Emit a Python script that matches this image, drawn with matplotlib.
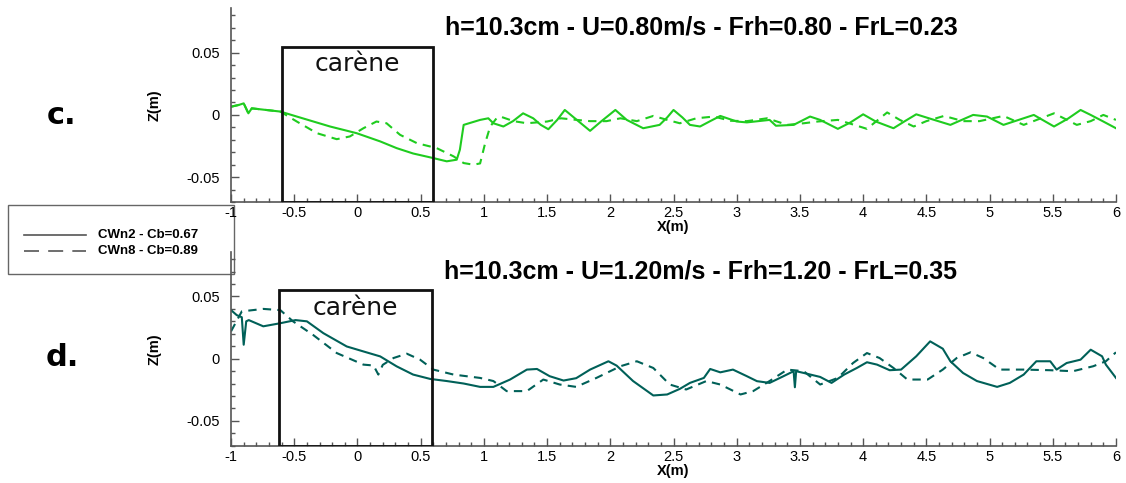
import numpy as np
from matplotlib import pyplot as plt
from matplotlib.patches import Rectangle
from matplotlib.ticker import MultipleLocator
from matplotlib.lines import Line2D

plt.rcParams['font.family'] = ['Liberation Sans', 'DejaVu Sans']

# c. : U=0.80 m/s
c_x2 = [-1.0, -0.94, -0.90, -0.863, -0.836, -0.61, -0.48, -0.217, -0.006, 0.18, 0.31, 0.44, 0.60, 0.706,
        0.785, 0.81, 0.84, 0.97, 1.035, 1.075, 1.154, 1.23, 1.31, 1.39, 1.45, 1.51, 1.58, 1.64, 1.735, 1.84,
        1.93, 2.04, 2.13, 2.26, 2.39, 2.45, 2.50, 2.57, 2.63, 2.71, 2.79, 2.87, 3.0, 3.08, 3.26, 3.31, 3.45,
        3.58, 3.66, 3.80, 3.90, 4.0, 4.10, 4.24, 4.33, 4.42, 4.53, 4.69, 4.78, 4.87, 4.98, 5.11, 5.23, 5.35,
        5.51, 5.62, 5.72, 5.80, 5.90, 6.0]
c_z2 = [0.0066, 0.008, 0.0093, 0.0013, 0.0053, 0.0027, -0.0013, -0.0093, -0.0147, -0.0213, -0.0267, -0.031,
        -0.0347, -0.0373, -0.036, -0.028, -0.008, -0.004, -0.0027, -0.0067, -0.0093, -0.005, 0.0013, -0.0027,
        -0.008, -0.0115, -0.004, 0.004, -0.004, -0.0128, -0.005, 0.004, -0.004, -0.0107, -0.008, -0.002,
        0.004, -0.002, -0.008, -0.0093, -0.005, -0.0008, -0.0053, -0.006, -0.004, -0.0087, -0.008, -0.0013,
        -0.004, -0.0112, -0.006, 0.0005, -0.0053, -0.0107, -0.005, 0.0005, -0.003, -0.008, -0.004, 0.0, -0.0013,
        -0.008, -0.004, 0.0, -0.0093, -0.003, 0.004, 0.0, -0.0053, -0.0107]
c_x8 = [-1.0, -0.94, -0.90, -0.863, -0.836, -0.61, -0.48, -0.32, -0.164, -0.06, 0.047, 0.15, 0.23, 0.337,
        0.47, 0.627, 0.76, 0.84, 0.917, 0.97, 1.01, 1.05, 1.10, 1.13, 1.235, 1.34, 1.50, 1.61, 1.735, 1.84,
        1.97, 2.08, 2.21, 2.34, 2.45, 2.55, 2.68, 2.82, 2.95, 3.08, 3.24, 3.40, 3.53, 3.64, 3.80, 3.93, 4.03,
        4.19, 4.29, 4.40, 4.50, 4.64, 4.79, 4.92, 5.11, 5.27, 5.51, 5.69, 5.80, 5.90, 6.0]
c_z8 = [0.0066, 0.008, 0.0093, 0.0013, 0.0053, 0.0027, -0.0053, -0.0147, -0.0195, -0.0173, -0.0107, -0.0053,
        -0.0067, -0.016, -0.0227, -0.0267, -0.0333, -0.0387, -0.040, -0.039, -0.0227, -0.0093, -0.0027,
        -0.0013, -0.005, -0.0067, -0.0053, -0.0027, -0.004, -0.005, -0.005, -0.0027, -0.005, -0.0008, -0.004,
        -0.0067, -0.0027, -0.0013, -0.0047, -0.005, -0.0027, -0.008, -0.0067, -0.0053, -0.004, -0.008,
        -0.0112, 0.002, -0.004, -0.0093, -0.005, -0.0008, -0.005, -0.005, -0.0008, -0.008, 0.0013, -0.008,
        -0.005, 0.0, -0.004]

# d. : U=1.20 m/s
d_x2 = [-1.0, -0.955, -0.915, -0.90, -0.88, -0.86, -0.745, -0.61, -0.49, -0.40, -0.27, -0.085, 0.047, 0.18,
        0.31, 0.44, 0.575, 0.706, 0.84, 0.97, 1.075, 1.207, 1.34, 1.42, 1.52, 1.63, 1.73, 1.84, 1.985, 2.05,
        2.18, 2.34, 2.45, 2.55, 2.63, 2.74, 2.79, 2.87, 2.97, 3.08, 3.16, 3.26, 3.37, 3.45, 3.46, 3.47, 3.53,
        3.66, 3.75, 3.85, 3.95, 4.03, 4.11, 4.21, 4.30, 4.42, 4.53, 4.63, 4.69, 4.79, 4.90, 5.06, 5.16, 5.27,
        5.37, 5.48, 5.53, 5.61, 5.72, 5.80, 5.89, 5.92, 6.0]
d_z2 = [0.039, 0.035, 0.0333, 0.0112, 0.030, 0.031, 0.026, 0.0285, 0.031, 0.030, 0.0205, 0.0098, 0.0058,
        0.0018, -0.0062, -0.0128, -0.0163, -0.018, -0.020, -0.0227, -0.0227, -0.0168, -0.0088, -0.0083,
        -0.0141, -0.0176, -0.0157, -0.0088, -0.0021, -0.0056, -0.018, -0.0296, -0.0288, -0.0243, -0.0195,
        -0.0155, -0.0083, -0.011, -0.0088, -0.0141, -0.0181, -0.0195, -0.0141, -0.0101, -0.023, -0.0101,
        -0.0115, -0.0147, -0.0195, -0.0128, -0.0075, -0.0029, -0.0048, -0.0093, -0.0088, 0.0019, 0.0139,
        0.008, -0.0021, -0.0115, -0.018, -0.0227, -0.0195, -0.0128, -0.0021, -0.0021, -0.0088, -0.0035,
        -0.0008, 0.0072, 0.0019, -0.0048, -0.0155]
d_x8 = [-1.0, -0.915, -0.745, -0.61, -0.51, -0.35, -0.164, 0.047, 0.127, 0.165, 0.2, 0.285, 0.39, 0.495,
        0.60, 0.76, 0.97, 1.075, 1.18, 1.34, 1.47, 1.60, 1.73, 1.89, 2.08, 2.21, 2.34, 2.47, 2.60, 2.76, 2.87,
        3.03, 3.13, 3.26, 3.40, 3.53, 3.66, 3.80, 3.92, 4.03, 4.13, 4.24, 4.35, 4.51, 4.63, 4.74, 4.85, 4.95,
        5.08, 5.27, 5.48, 5.66, 5.82, 5.92, 6.0]
d_z8 = [0.022, 0.038, 0.040, 0.039, 0.030, 0.019, 0.0045, -0.0048, -0.0055, -0.0128, -0.005, 0.0005, 0.004,
        -0.0008, -0.0088, -0.0128, -0.0155, -0.018, -0.0261, -0.0261, -0.0168, -0.0208, -0.0227, -0.0155,
        -0.0061, -0.0021, -0.0075, -0.0208, -0.0248, -0.018, -0.0208, -0.0288, -0.0261, -0.018, -0.0088,
        -0.0101, -0.0208, -0.0155, -0.0035, 0.0045, 0.0005, -0.0075, -0.0168, -0.0168, -0.0088, 0.0005,
        0.0051, 0.0005, -0.0088, -0.0088, -0.0093, -0.0101, -0.0061, -0.0021, 0.0051]

titles = ['h=10.3cm - U=0.80m/s - Frh=0.80 - FrL=0.23',
          'h=10.3cm - U=1.20m/s - Frh=1.20 - FrL=0.35']
letters = ['c.', 'd.']
colors = ['#1fcc1f', '#006058']
series = [(c_x2, c_z2, c_x8, c_z8), (d_x2, d_z2, d_x8, d_z8)]
boxes = [(-0.6, 0.6), (-0.62, 0.59)]
legend_labels = ['CWn2 - Cb=0.67', 'CWn8 - Cb=0.89']

W, H = 1126, 483
fig = plt.figure(figsize=(W / 100, H / 100), dpi=100)
positions = [[0.2052, 0.5818, 0.7859, 0.4017], [0.2052, 0.0772, 0.7859, 0.4017]]
letter_y = [115, 357]

# legende (cadre dessine a la main, sous les axes)
fig.add_artist(Rectangle((8 / W, 1 - 274 / H), 226 / W, 69 / H, transform=fig.transFigure,
                         fill=True, fc='white', ec='#666666', lw=1, zorder=-1))
leg_y = [235, 251]
leg_dash = [None, (9, 5.5)]
for k in range(2):
    ln = Line2D([24 / W, 86 / W], [1 - leg_y[k] / H] * 2, transform=fig.transFigure,
                color='#555555', lw=1.2, zorder=-0.5)
    if leg_dash[k]:
        ln.set_dashes(leg_dash[k])
    fig.add_artist(ln)
    fig.text(98 / W, 1 - leg_y[k] / H, legend_labels[k], ha='left', va='center',
             fontsize=9.5, fontweight='bold', zorder=-0.5)

for i in range(2):
    ax = fig.add_axes(positions[i])
    ax.patch.set_alpha(0)
    x2, z2, x8, z8 = series[i]
    ax.plot(x2, z2, color=colors[i], lw=1.5)
    ax.plot(x8, z8, color=colors[i], lw=1.5, dashes=(4, 3))
    ax.set_xlim(-1, 6)
    ax.set_ylim(-0.07, 0.086)
    ax.add_patch(Rectangle((boxes[i][0], -0.07), boxes[i][1] - boxes[i][0], 0.125,
                           fill=False, ec='#111111', lw=2, zorder=3))
    ax.text(sum(boxes[i]) / 2, 0.041, 'carène', ha='center', va='center', fontsize=18,
            family='DejaVu Sans', color='#111111')
    ax.text(0.531, 0.897, titles[i], transform=ax.transAxes, ha='center', va='center',
            fontsize=18, fontweight='bold')
    ax.xaxis.set_minor_locator(MultipleLocator(0.1))
    ax.yaxis.set_minor_locator(MultipleLocator(0.01))
    ax.set_xticks(np.arange(-1, 6.01, 0.5))
    ax.set_xticklabels(['-1', '-0.5', '0', '0.5', '1', '1.5', '2', '2.5', '3', '3.5', '4', '4.5',
                        '5', '5.5', '6'])
    ax.set_yticks([-0.05, 0, 0.05])
    ax.set_yticklabels(['-0.05', '0', '0.05'])
    ax.tick_params(which='both', direction='in', color='#555555', labelsize=10.5)
    ax.tick_params(axis='y', pad=8)
    ax.tick_params(axis='x', pad=3)
    ax.tick_params(which='major', length=6, width=1)
    ax.tick_params(which='minor', length=3, width=1)
    for s in ['top', 'right']:
        ax.spines[s].set_visible(False)
    for s in ['left', 'bottom']:
        ax.spines[s].set_color('#555555')
        ax.spines[s].set_linewidth(1.2)
    ax.set_xlabel('X(m)', fontsize=10.5, fontweight='bold', labelpad=0)
    ax.set_ylabel('Z(m)', fontsize=10.5, fontweight='bold', labelpad=18)
    fig.text(62 / W, 1 - letter_y[i] / H, letters[i], ha='center', va='center',
             fontsize=22, fontweight='bold', family='DejaVu Sans')

plt.savefig('out.png', dpi=100)
